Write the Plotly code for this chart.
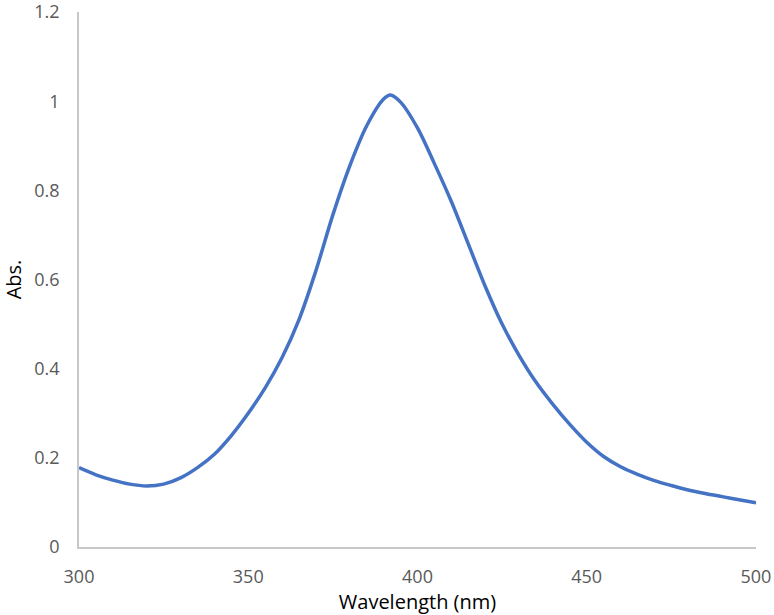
import plotly.graph_objects as go

# UV-Vis absorbance spectrum
wavelength = [300, 305, 310, 315, 320, 325, 330, 335, 340, 345, 350, 355, 360,
              365, 370, 375, 380, 385, 390, 392, 395, 400, 405, 410, 415, 420,
              425, 430, 435, 440, 445, 450, 455, 460, 465, 470, 475, 480, 485,
              490, 495, 500]
absorbance = [0.178, 0.162, 0.150, 0.141, 0.137, 0.141, 0.155, 0.178, 0.208,
              0.250, 0.300, 0.357, 0.425, 0.510, 0.620, 0.745, 0.855, 0.945,
              1.005, 1.014, 0.998, 0.940, 0.860, 0.775, 0.680, 0.585, 0.500,
              0.430, 0.370, 0.320, 0.275, 0.235, 0.203, 0.180, 0.163, 0.149,
              0.138, 0.128, 0.120, 0.113, 0.106, 0.099]

x_ticks = [300, 350, 400, 450, 500]
y_ticks = [0, 0.2, 0.4, 0.6, 0.8, 1, 1.2]

LINE = '#4472C4'
AXIS = '#C8C8C8'
TICK_TEXT = '#595959'
FONT_FAMILY = "'Open Sans', sans-serif"

fig = go.Figure()
fig.add_trace(go.Scatter(x=wavelength, y=absorbance, mode='lines',
                         line=dict(color=LINE, width=3.5, shape='spline', smoothing=0.8),
                         cliponaxis=False, showlegend=False))

fig.update_layout(
    width=774, height=615,
    paper_bgcolor='white', plot_bgcolor='white',
    font=dict(family=FONT_FAMILY, color='black'),
    margin=dict(l=79, r=18, t=12, b=68),
    xaxis=dict(range=[300, 500.01], tickvals=x_ticks, showgrid=False, zeroline=False,
               showline=True, linecolor=AXIS, linewidth=1.5,
               ticks='', ticklabelstandoff=13, automargin=False,
               ticklabeloverflow='allow',
               tickfont=dict(size=18, color=TICK_TEXT),
               title=dict(text='Wavelength (nm)', font=dict(size=20, color='black'),
                          standoff=4)),
    yaxis=dict(range=[0, 1.2001], tickvals=y_ticks, showgrid=False, zeroline=False,
               showline=True, linecolor=AXIS, linewidth=1.5,
               ticks='', ticklabelstandoff=14, automargin=False,
               ticklabeloverflow='allow',
               tickfont=dict(size=18, color=TICK_TEXT),
               title=dict(text='Abs.', font=dict(size=20, color='black'),
                          standoff=8)),
)

# drop the default 8px page margin so the figure sits at the window's corner
fig.write_html("out.html", config={'displayModeBar': False},
               post_script="document.body.style.margin='0';")
